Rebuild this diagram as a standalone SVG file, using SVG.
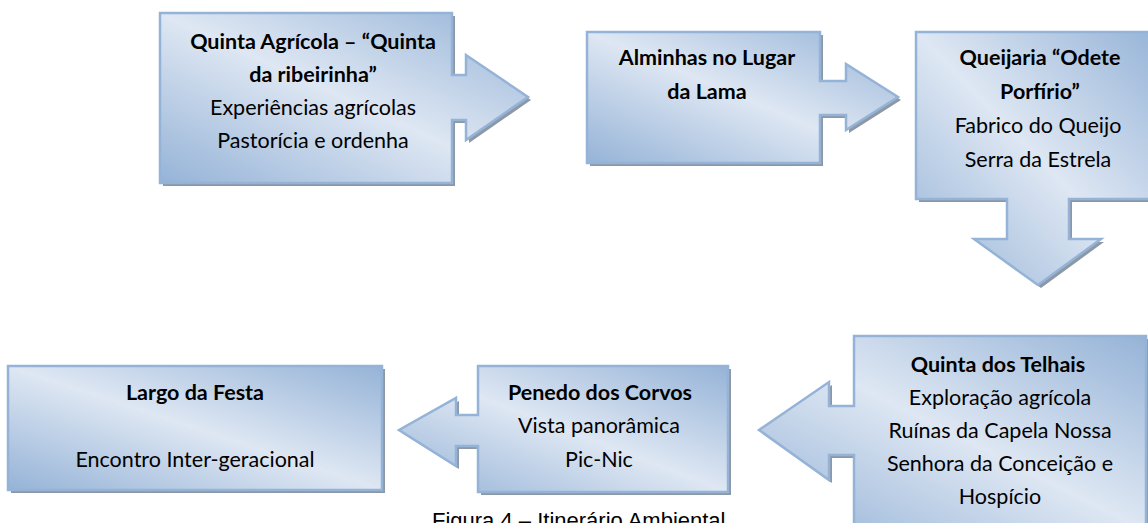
<svg xmlns="http://www.w3.org/2000/svg" width="1148" height="523" viewBox="0 0 1148 523">
  <defs>
    <linearGradient id="blueFill" x1="0" y1="1" x2="1" y2="0">
      <stop offset="0" stop-color="#95B3D7"/>
      <stop offset="0.5" stop-color="#DEE7F3"/>
      <stop offset="1" stop-color="#95B3D7"/>
    </linearGradient>
  </defs>
  <style>
    .shadow { fill: #8D98A7; }
    .shape { fill: url(#blueFill); stroke: #95B3D7; stroke-width: 2.5; stroke-linejoin: miter; }
    text { font-family: Lato, "Open Sans", "Liberation Sans", sans-serif; font-size: 21.5px; fill: #000; text-anchor: middle; }
    .b { font-weight: 700; }
    .caption { font-family: "Liberation Sans", Arial, sans-serif; font-size: 22px; text-anchor: start; }
  </style>
  <rect width="1148" height="523" fill="#FFFFFF"/>

  <g id="connectors"></g>

  <g id="node-quinta-agricola">
    <polygon class="shadow" transform="translate(3,3)" points="160,13 452,13 452,75 466,75 466,55 528,97 466,140 466,120 452,120 452,183 160,183"/>
    <polygon class="shape" points="160,13 452,13 452,75 466,75 466,55 528,97 466,140 466,120 452,120 452,183 160,183"/>
    <text class="b" x="313" y="49">Quinta Agrícola – “Quinta</text>
    <text class="b" x="313" y="82">da ribeirinha”</text>
    <text x="313" y="115">Experiências agrícolas</text>
    <text x="313" y="148">Pastorícia e ordenha</text>
  </g>

  <g id="node-alminhas">
    <polygon class="shadow" transform="translate(3,3)" points="587,32 820,32 820,81 846,81 846,64 898,97 846,130 846,115 820,115 820,163 587,163"/>
    <polygon class="shape" points="587,32 820,32 820,81 846,81 846,64 898,97 846,130 846,115 820,115 820,163 587,163"/>
    <text class="b" x="707" y="65">Alminhas no Lugar</text>
    <text class="b" x="707" y="99">da Lama</text>
  </g>

  <g id="node-queijaria">
    <polygon class="shadow" transform="translate(3,3)" points="916,32 1162,32 1162,199 1069,199 1069,239 1101,239 1038,285 974,239 1007,239 1007,199 916,199"/>
    <polygon class="shape" points="916,32 1162,32 1162,199 1069,199 1069,239 1101,239 1038,285 974,239 1007,239 1007,199 916,199"/>
    <text class="b" x="1040" y="65">Queijaria “Odete</text>
    <text class="b" x="1040" y="99">Porfírio”</text>
    <text x="1038" y="133">Fabrico do Queijo</text>
    <text x="1038" y="167">Serra da Estrela</text>
  </g>

  <g id="node-quinta-telhais">
    <polygon class="shadow" transform="translate(3,3)" points="854,336 1146,336 1146,530 854,530 854,455 829,455 829,480 759,430 829,382 829,406 854,406"/>
    <polygon class="shape" points="854,336 1146,336 1146,530 854,530 854,455 829,455 829,480 759,430 829,382 829,406 854,406"/>
    <text class="b" x="998" y="372">Quinta dos Telhais</text>
    <text x="1000" y="405">Exploração agrícola</text>
    <text x="1000" y="438">Ruínas da Capela Nossa</text>
    <text x="1000" y="471">Senhora da Conceição e</text>
    <text x="1000" y="504">Hospício</text>
  </g>

  <g id="node-penedo">
    <polygon class="shadow" transform="translate(3,3)" points="478,366 728,366 728,492 478,492 478,446 456,446 456,466 399,430 456,398 456,415 478,415"/>
    <polygon class="shape" points="478,366 728,366 728,492 478,492 478,446 456,446 456,466 399,430 456,398 456,415 478,415"/>
    <text class="b" x="600" y="400">Penedo dos Corvos</text>
    <text x="599" y="433">Vista panorâmica</text>
    <text x="599" y="467">Pic-Nic</text>
  </g>

  <g id="node-largo">
    <rect class="shadow" x="11" y="369" width="374" height="124"/>
    <rect class="shape" x="8" y="366" width="374" height="124"/>
    <text class="b" x="195" y="400">Largo da Festa</text>
    <text x="195" y="467">Encontro Inter-geracional</text>
  </g>

  <text class="caption" x="432" y="528">Figura 4 – Itinerário Ambiental</text>
</svg>
